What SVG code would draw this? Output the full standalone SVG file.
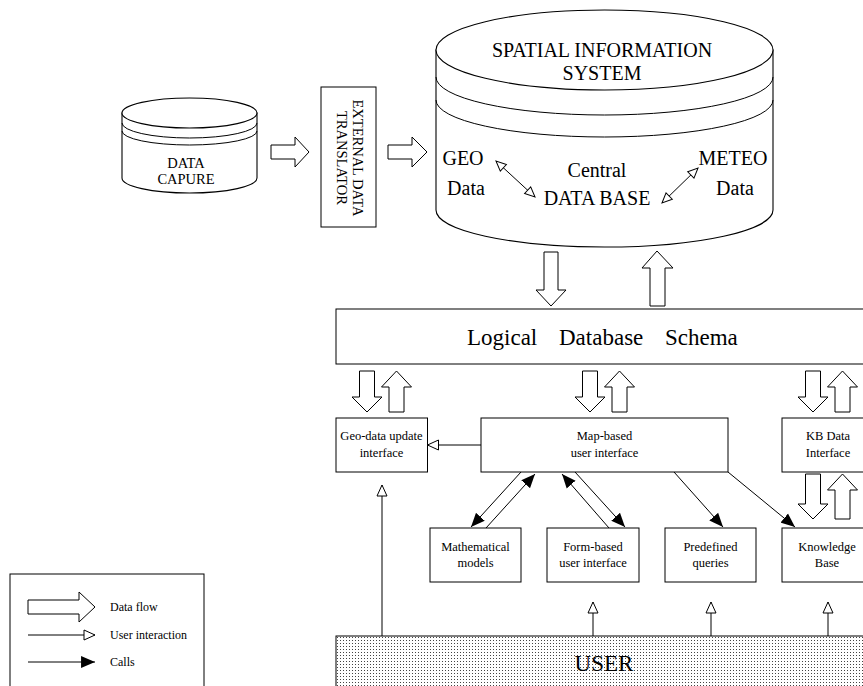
<svg xmlns="http://www.w3.org/2000/svg" width="863" height="686" viewBox="0 0 863 686">
<defs>
<style>
text{font-family:"Liberation Serif","Times New Roman",serif;fill:#000}
.box{fill:#fff;stroke:#000;stroke-width:1}
.fat{fill:#fff;stroke:#000;stroke-width:1}
.cyl{fill:#fff;stroke:#000;stroke-width:1.1}
.ln{fill:none;stroke:#000;stroke-width:1}
.ui{marker-end:url(#open)}
.call{marker-end:url(#solid)}
.t12{font-size:12.5px;text-anchor:middle}
.t20{font-size:20px;text-anchor:middle}
.lg{font-size:12px}
</style>
<marker id="open" markerUnits="userSpaceOnUse" markerWidth="14" markerHeight="12" refX="11" refY="5" orient="auto" viewBox="-1 -1 14 12">
<path d="M0,0 L11,5 L0,10 Z" fill="#fff" stroke="#000" stroke-width="1"/>
</marker>
<marker id="open2" markerUnits="userSpaceOnUse" markerWidth="12" markerHeight="12" refX="10" refY="4.5" orient="auto-start-reverse" viewBox="-1 -1 12 11">
<path d="M0,0 L10,4.5 L0,9 Z" fill="#fff" stroke="#000" stroke-width="1"/>
</marker>
<marker id="solid" markerUnits="userSpaceOnUse" markerWidth="15" markerHeight="13" refX="13" refY="5.5" orient="auto" viewBox="0 0 14 11">
<path d="M0,0 L13,5.5 L0,11 Z" fill="#000"/>
</marker>
<pattern id="dots" width="3" height="3" patternUnits="userSpaceOnUse">
<rect width="3" height="3" fill="#fff"/>
<rect x="1" y="1" width="1" height="1" fill="#444"/>
</pattern>
</defs>

<g id="data-capture">
<path class="cyl" d="M122,113 L122,178 A67.5,15 0 0 0 257,178 L257,113 Z"/>
<ellipse class="cyl" cx="189.5" cy="113" rx="67.5" ry="15"/>
<path class="ln" d="M122,123 A67.5,15 0 0 0 257,123"/>
<path class="ln" d="M122,131 A67.5,14 0 0 0 257,131"/>
<text x="186" y="168" style="font-size:14.5px;text-anchor:middle">DATA</text>
<text x="186" y="184" style="font-size:14.5px;text-anchor:middle">CAPURE</text>
</g>

<g id="translator">
<rect class="box" x="321" y="87" width="55" height="140"/>
<g transform="translate(348.5,158) rotate(90)">
<text x="0" y="-4" style="font-size:14.5px;text-anchor:middle">EXTERNAL DATA</text>
<text x="0" y="12" style="font-size:14.5px;text-anchor:middle">TRANSLATOR</text>
</g>
</g>

<g id="sis">
<path class="cyl" d="M436,50 L436,210 A168.5,37 0 0 0 773,210 L773,50 Z"/>
<ellipse class="cyl" cx="604.5" cy="50" rx="168.5" ry="40"/>
<path class="ln" d="M436,77 A168.5,38 0 0 0 773,77"/>
<path class="ln" d="M436,100 A168.5,37 0 0 0 773,100"/>
<text x="602" y="57" class="t20">SPATIAL INFORMATION</text>
<text x="602" y="80" class="t20">SYSTEM</text>
<text x="463" y="165" class="t20">GEO</text>
<text x="466" y="195" class="t20">Data</text>
<text x="597" y="177" class="t20">Central</text>
<text x="597" y="205" class="t20">DATA BASE</text>
<text x="733" y="165" class="t20">METEO</text>
<text x="735" y="195" class="t20">Data</text>
<line class="ln" x1="496" y1="161" x2="535" y2="197" marker-start="url(#open2)" marker-end="url(#open2)"/>
<line class="ln" x1="662" y1="203" x2="698" y2="168" marker-start="url(#open2)" marker-end="url(#open2)"/>
</g>

<g id="logical-schema">
<rect class="box" x="336" y="309" width="540" height="55"/>
<text y="345" style="font-size:23px"><tspan x="467">Logical</tspan><tspan x="559">Database</tspan><tspan x="665">Schema</tspan></text>
</g>

<g id="geo-update">
<rect class="box" x="336" y="418" width="91.5" height="54"/>
<text x="381.5" y="440" class="t12">Geo-data update</text>
<text x="381.5" y="457" class="t12">interface</text>
</g>

<g id="map-ui">
<rect class="box" x="481" y="418" width="247" height="54"/>
<text x="604.5" y="440" class="t12">Map-based</text>
<text x="604.5" y="457" class="t12">user interface</text>
</g>

<g id="kb-data">
<rect class="box" x="782" y="418" width="100" height="54"/>
<text x="828" y="440" class="t12">KB Data</text>
<text x="828" y="457" class="t12">Interface</text>
</g>

<g id="math-models">
<rect class="box" x="430" y="528" width="91" height="54"/>
<text x="475.5" y="551" class="t12">Mathematical</text>
<text x="475.5" y="567" class="t12">models</text>
</g>

<g id="form-ui">
<rect class="box" x="547" y="528" width="92" height="54"/>
<text x="593" y="551" class="t12">Form-based</text>
<text x="593" y="567" class="t12">user interface</text>
</g>

<g id="predefined">
<rect class="box" x="665" y="528" width="91" height="54"/>
<text x="710.5" y="551" class="t12">Predefined</text>
<text x="710.5" y="567" class="t12">queries</text>
</g>

<g id="knowledge-base">
<rect class="box" x="782" y="528" width="100" height="54"/>
<text x="827" y="551" class="t12">Knowledge</text>
<text x="827" y="567" class="t12">Base</text>
</g>

<g id="user">
<rect x="336" y="636" width="540" height="60" fill="url(#dots)" stroke="#000" stroke-width="1"/>
<text x="604" y="671" style="font-size:23px;text-anchor:middle">USER</text>
</g>

<g id="legend">
<rect class="box" x="10" y="574" width="194" height="130"/>
<polygon class="fat" points="28,600 79,600 79,592 95,607 79,622 79,614 28,614"/>
<text x="110" y="611" class="lg">Data flow</text>
<line class="ln ui" x1="28" y1="635" x2="95" y2="635"/>
<text x="110" y="639" class="lg">User interaction</text>
<line class="ln call" x1="28" y1="662" x2="95" y2="662"/>
<text x="110" y="666" class="lg">Calls</text>
</g>

<g id="connectors">
<polygon class="fat" points="271,145 295,145 295,137 309,152 295,167 295,159 271,159"/>
<polygon class="fat" points="388,145 412,145 412,137 427,152 412,167 412,159 388,159"/>
<polygon class="fat" points="544,252 558,252 558,290 566,290 551,306 536,290 544,290"/>
<polygon class="fat" points="650,306 665,306 665,268 673,268 657,251 642,268 650,268"/>
<polygon class="fat" points="359.5,371 374.5,371 374.5,397 382,397 367,412 352,397 359.5,397"/>
<polygon class="fat" points="389,412 404,412 404,387 411.5,387 396.5,371 381.5,387 389,387"/>
<polygon class="fat" points="582.5,371 597.5,371 597.5,397 605,397 590,412 575,397 582.5,397"/>
<polygon class="fat" points="612,412 627,412 627,387 634.5,387 619.5,371 604.5,387 612,387"/>
<polygon class="fat" points="805.5,371 820.5,371 820.5,397 828,397 813,412 798,397 805.5,397"/>
<polygon class="fat" points="835,412 850,412 850,387 857.5,387 842.5,371 827.5,387 835,387"/>
<polygon class="fat" points="805.5,474 820.5,474 820.5,504 828,504 813,519 798,504 805.5,504"/>
<polygon class="fat" points="835,519 850,519 850,490 857.5,490 842.5,474 827.5,490 835,490"/>
<line class="ln ui" x1="481" y1="445" x2="427.5" y2="445"/>
<line class="ln ui" x1="382" y1="636" x2="382" y2="485"/>
<line class="ln ui" x1="593" y1="636" x2="593" y2="602"/>
<line class="ln ui" x1="711" y1="636" x2="711" y2="602"/>
<line class="ln ui" x1="828" y1="636" x2="828" y2="602"/>
<line class="ln call" x1="521" y1="472" x2="471" y2="527"/>
<line class="ln call" x1="486" y1="528" x2="535" y2="474"/>
<line class="ln call" x1="609" y1="528" x2="562" y2="474"/>
<line class="ln call" x1="575" y1="472" x2="625" y2="527"/>
<line class="ln call" x1="674" y1="472" x2="723" y2="527"/>
<line class="ln call" x1="728" y1="472" x2="795" y2="527"/>
</g>
</svg>
